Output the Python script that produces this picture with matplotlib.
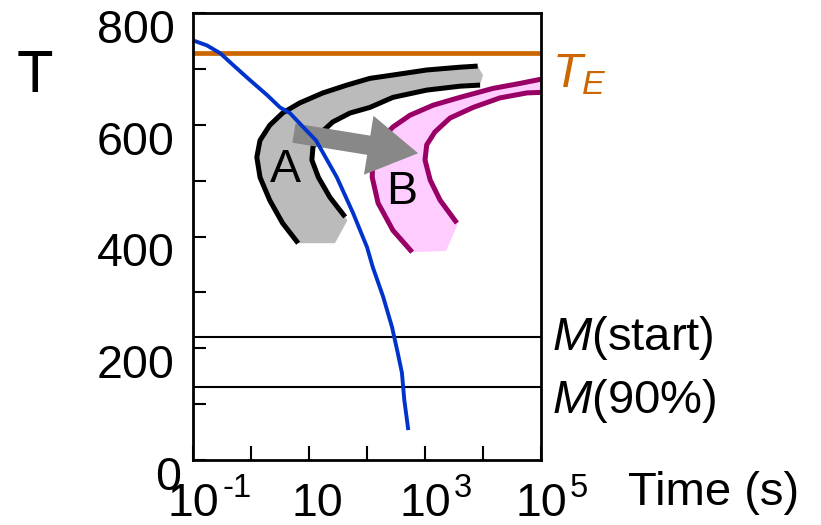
import numpy as np
import matplotlib
matplotlib.use("Agg")
import matplotlib.pyplot as plt
from matplotlib.patches import FancyArrowPatch, ArrowStyle
from matplotlib.transforms import ScaledTranslation, blended_transform_factory

plt.rcParams['font.family'] = ['Liberation Sans', 'DejaVu Sans']
plt.rcParams['mathtext.fontset'] = 'custom'
plt.rcParams['mathtext.rm'] = 'Liberation Sans'
plt.rcParams['mathtext.it'] = 'Liberation Sans:italic'

# ---------------- data ----------------
t_e = 728          # eutectoid temperature
m_start = 220      # martensite start
m_90 = 130         # martensite 90 %

cool_time = [0.1, 0.174, 0.295, 0.49, 0.955, 1.9, 3.16, 4.68, 7.9, 13.2,
             30.2, 57.5, 100, 126, 190, 270, 340, 400, 440, 510]
cool_temp = [751, 742, 728, 707, 680, 653, 631, 621, 596, 572,
             506, 442, 381, 345, 292, 238, 191, 156, 107, 57]

a_outer_time = [6.5, 3.5, 2.1, 1.43, 1.26, 1.43, 2.1, 3.5, 6.9, 17.4, 45,
                112, 280, 1070, 4000, 8100]
a_outer_temp = [388, 424, 465, 506, 542, 572, 599, 621, 639, 657, 671,
                683, 689, 698, 703, 705]
a_inner_time = [42, 23, 14.5, 11.2, 11.7, 16.6, 25.7, 51, 112, 280, 1070,
                4000, 8900]
a_inner_temp = [435, 470, 506, 537, 560, 587, 605, 621, 631, 649, 662,
                669, 671]
a_tip = (10000, 689)
a_base_time = [46, 28]
a_base_temp = [429, 388]

b_outer_time = [600, 280, 155, 123, 126, 166, 280, 550, 1380, 4000, 14800,
                43600, 105000]
b_outer_temp = [372, 411, 460, 506, 542, 572, 596, 617, 635, 649, 665,
                674, 682]
b_inner_time = [3550, 1820, 1230, 1000, 1070, 1480, 2700, 6760, 19500,
                57500, 105000]
b_inner_temp = [424, 465, 501, 537, 564, 587, 612, 631, 648, 657, 658]
b_base_time = [3600, 2300]
b_base_temp = [420, 374]

arrow_from = (5.5, 585)
arrow_to = (760, 549)

xtick_vals = [0.1, 1, 10, 100, 1e3, 1e4, 1e5]
xtick_labels = ['10', '', '10', '', '10', '', '10']
xtick_exps = {0.1: '-1', 1e3: '3', 1e5: '5'}
ytick_vals = [0, 100, 200, 300, 400, 500, 600, 700, 800]
ytick_labels = ['0', '', '200', '', '400', '', '600', '', '800']

# ---------------- figure ----------------
fig = plt.figure(figsize=(8.21, 5.25), dpi=100)
W, H = 821, 525
ax = fig.add_axes([193 / W, 1 - 460 / H, (541 - 193) / W, (460 - 13) / H])
ax.set_xscale('log')
ax.set_xlim(0.1, 1e5)
ax.set_ylim(0, 800)

# bands
ax.fill(a_outer_time + [a_tip[0]] + a_inner_time[::-1] + a_base_time,
        a_outer_temp + [a_tip[1]] + a_inner_temp[::-1] + a_base_temp,
        color='#bbbbbb', lw=0, zorder=1)
ax.fill(b_outer_time + b_inner_time[::-1] + b_base_time,
        b_outer_temp + b_inner_temp[::-1] + b_base_temp,
        color='#ffccff', lw=0, zorder=1)

for tt, yy, c in [(a_outer_time, a_outer_temp, 'black'),
                  (a_inner_time, a_inner_temp, 'black'),
                  (b_outer_time, b_outer_temp, '#990066'),
                  (b_inner_time, b_inner_temp, '#990066')]:
    ax.plot(tt, yy, color=c, lw=3.6, solid_capstyle='butt',
            solid_joinstyle='round', zorder=2)

# reference lines
ax.axhline(t_e, color='#cc6600', lw=3.4, zorder=2)
ax.axhline(m_start, color='black', lw=1.5, zorder=2)
ax.axhline(m_90, color='black', lw=1.5, zorder=2)

# arrow
arr = FancyArrowPatch(arrow_from, arrow_to,
                      arrowstyle=ArrowStyle('Simple', head_length=36,
                                            head_width=43, tail_width=14),
                      mutation_scale=1, shrinkA=0, shrinkB=0,
                      color='#888888', lw=0, zorder=3)
ax.add_patch(arr)

# cooling curve
ax.plot(cool_time, cool_temp, color='#0033cc', lw=2.8, zorder=4,
        solid_joinstyle='round')

# band labels
ax.text(3.9, 519, 'A', fontsize=33.5, ha='center', va='center', zorder=5)
ax.text(400, 480, 'B', fontsize=33.5, ha='center', va='center', zorder=5)

# spines & ticks
for s in ax.spines.values():
    s.set_linewidth(2.0)
    s.set_zorder(6)
ax.set_xticks(xtick_vals)
ax.set_xticklabels(xtick_labels)
ax.minorticks_off()
ax.set_yticks(ytick_vals)
ax.set_yticklabels(ytick_labels)
ax.tick_params(axis='both', direction='in', width=1.5, labelsize=33.5)
ax.tick_params(axis='y', pad=13, length=9)
ax.tick_params(axis='x', pad=16, length=10)
for lab in ax.get_yticklabels():
    dx = 6 / 100 if lab.get_text() == '0' else 0
    lab.set_transform(lab.get_transform() +
                      ScaledTranslation(dx, -13 / 100, fig.dpi_scale_trans))
for val, lab in zip(xtick_vals, ax.get_xticklabels()):
    if val == 10:
        lab.set_transform(lab.get_transform() +
                          ScaledTranslation(8 / 100, 0, fig.dpi_scale_trans))

btrans = blended_transform_factory(ax.transData, ax.transAxes)
for xv, e in xtick_exps.items():
    ax.text(xv, 0, e, fontsize=23.5, ha='left', va='baseline',
            transform=btrans + ScaledTranslation(29 / 100, -37 / 100,
                                                 fig.dpi_scale_trans),
            clip_on=False)

# outside labels
fig.text(17 / W, 1 - 92 / H, 'T', fontsize=43, ha='left', va='baseline')
fig.text(628 / W, 1 - 505 / H, 'Time (s)', fontsize=34, ha='left',
         va='baseline')
fig.text(552 / W, 1 - 87 / H, r'$T_E$', fontsize=35, color='#cc6600',
         ha='left', va='baseline')
fig.text(552 / W, 1 - 350 / H, r'$M$(start)', fontsize=34, ha='left',
         va='baseline')
fig.text(552 / W, 1 - 413 / H, r'$M$(90%)', fontsize=34, ha='left',
         va='baseline')

fig.savefig('out.png', dpi=100)
